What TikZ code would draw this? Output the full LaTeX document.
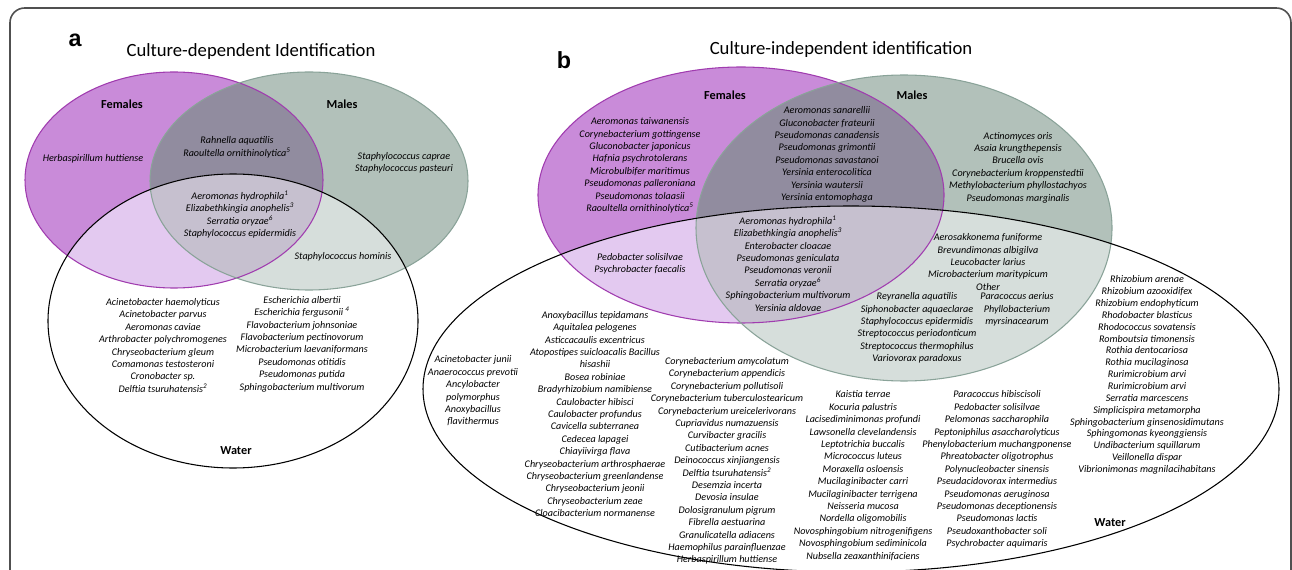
\documentclass[tikz,border=0pt]{standalone}
\usepackage{fontspec}
\setmainfont{Carlito}
\newfontfamily\panelfont{Liberation Sans}
\definecolor{fem}{RGB}{201,139,217}
\definecolor{mal}{RGB}{178,193,186}
\definecolor{fm}{RGB}{145,140,159}
\definecolor{fw}{RGB}{227,201,240}
\definecolor{mw}{RGB}{214,222,219}
\definecolor{fmw}{RGB}{198,192,207}
\definecolor{femedge}{RGB}{160,60,175}
\definecolor{maledge}{RGB}{138,163,153}
\definecolor{frame}{RGB}{80,80,80}
\begin{document}
\begin{tikzpicture}[x=0.75pt,y=-0.75pt,
  sp/.style={font=\fontsize{7.6}{9.3}\selectfont\itshape, align=center, inner sep=0pt},
  lab/.style={font=\fontsize{9.2}{11}\selectfont\bfseries, inner sep=0pt},
  ttl/.style={font=\fontsize{14}{16}\selectfont, inner sep=0pt},
  pan/.style={font=\panelfont\fontsize{17.5}{20}\selectfont\bfseries, inner sep=0pt},
  fedge/.style={draw=femedge, line width=0.8pt},
  medge/.style={draw=maledge, line width=0.8pt},
  wedge/.style={draw=black, line width=0.8pt}]
\useasboundingbox (0,0) rectangle (1292,570);
% frame
\draw[frame, line width=1.2pt, rounded corners=11] (10,580) -- (10,8) -- (1291,8) -- (1291,580);

% ---------- panel a geometry ----------
\def\FA{(174,180) ellipse [x radius=149, y radius=108]}
\def\MA{(309,181) ellipse [x radius=159, y radius=109]}
\def\WA{(233,321) ellipse [x radius=185, y radius=147]}
\fill[fem] \FA;
\fill[mal] \MA;
\begin{scope}\clip \FA; \fill[fm] \MA; \end{scope}
\fill[white] \WA;
\begin{scope}\clip \WA; \fill[fw] \FA; \end{scope}
\begin{scope}\clip \WA; \fill[mw] \MA; \end{scope}
\begin{scope}\clip \WA; \clip \FA; \fill[fmw] \MA; \end{scope}
\draw[fedge] \FA;
\draw[medge] \MA;
\draw[wedge] \WA;

% ---------- panel b geometry ----------
\def\FB{(741,195) ellipse [x radius=203, y radius=128]}
\def\MB{(904,228) ellipse [x radius=208, y radius=153]}
\def\WB{(851,389) ellipse [x radius=428, y radius=183]}
\fill[fem] \FB;
\fill[mal] \MB;
\begin{scope}\clip \FB; \fill[fm] \MB; \end{scope}
\fill[white] \WB;
\begin{scope}\clip \WB; \fill[fw] \FB; \end{scope}
\begin{scope}\clip \WB; \fill[mw] \MB; \end{scope}
\begin{scope}\clip \WB; \clip \FB; \fill[fmw] \MB; \end{scope}
\draw[fedge] \FB;
\draw[medge] \MB;
\draw[wedge] \WB;

% ---------- panel a text ----------
\node[pan] (pa) at (75,40) {a};
\node[ttl] (ta) at (251,52) {Culture-dependent Identification};
\node[lab] (fa) at (122,104) {Females};
\node[lab] (ma) at (342,104) {Males};
\node[lab] (wa) at (236,451) {Water};
\node[sp] (a1) at (93,159) {Herbaspirillum huttiense};
\node[sp] (a2) at (237,147.5) {Rahnella aquatilis\\Raoultella ornithinolytica\textsuperscript{5}};
\node[sp] (a3) at (404,163) {Staphylococcus caprae\\Staphylococcus pasteuri};
\node[sp] (a4) at (240,214.6) {Aeromonas hydrophila\textsuperscript{1}\\Elizabethkingia anophelis\textsuperscript{3}\\Serratia oryzae\textsuperscript{6}\\Staphylococcus epidermidis};
\node[sp] (a5) at (343,257) {Staphylococcus hominis};
\node[sp] (a6) at (163,345.5) {Acinetobacter haemolyticus\\Acinetobacter parvus\\Aeromonas caviae\\Arthrobacter polychromogenes\\Chryseobacterium gleum\\Comamonas testosteroni\\Cronobacter sp.\\Delftia tsuruhatensis\textsuperscript{2}};
\node[sp] (a7) at (302,344) {Escherichia albertii\\Escherichia fergusonii \textsuperscript{4}\\Flavobacterium johnsoniae\\Flavobacterium pectinovorum\\Microbacterium laevaniformans\\Pseudomonas otitidis\\Pseudomonas putida\\Sphingobacterium multivorum};

% ---------- panel b text ----------
\node[pan] (pb) at (564,60) {b};
\node[ttl] (tb) at (841,50) {Culture-independent identification};
\node[lab] (fb) at (725,95) {Females};
\node[lab] (mb) at (912,95) {Males};
\node[lab] (wb) at (1110,523) {Water};
\node[sp] (b1) at (640,165.5) {Aeromonas taiwanensis\\Corynebacterium gottingense\\Gluconobacter japonicus\\Hafnia psychrotolerans\\Microbulbifer maritimus\\Pseudomonas palleroniana\\Pseudomonas tolaasii\\Raoultella ornithinolytica\textsuperscript{5}};
\node[sp] (b2) at (827,154.5) {Aeromonas sanarellii\\Gluconobacter frateurii\\Pseudomonas canadensis\\Pseudomonas grimontii\\Pseudomonas savastanoi\\Yersinia enterocolitica\\Yersinia wautersii\\Yersinia entomophaga};
\node[sp] (b3) at (788,263.5) {Aeromonas hydrophila\textsuperscript{1}\\Elizabethkingia anophelis\textsuperscript{3}\\Enterobacter cloacae\\Pseudomonas geniculata\\Pseudomonas veronii\\Serratia oryzae\textsuperscript{6}\\Sphingobacterium multivorum\\Yersinia aldovae};
\node[sp] (b4) at (640,263.5) {Pedobacter solisilvae\\Psychrobacter faecalis};
\node[sp] (b5) at (1018,167.5) {Actinomyces oris\\Asaia krungthepensis\\Brucella ovis\\Corynebacterium kroppenstedtii\\Methylobacterium phyllostachyos\\Pseudomonas marginalis};
\node[sp] (b6) at (988,262) {Aerosakkonema funiforme\\Brevundimonas albigilva\\Leucobacter larius\\Microbacterium maritypicum\\Other};
\node[sp] (b7) at (917,328) {Reyranella aquatilis\\Siphonobacter aquaeclarae\\Staphylococcus epidermidis\\Streptococcus periodonticum\\Streptococcus thermophilus\\Variovorax paradoxus};
\node[sp] (b8) at (1017,309.5) {Paracoccus aerius\\Phyllobacterium\\myrsinacearum};
\node[sp] (w1) at (473,391) {Acinetobacter junii\\Anaerococcus prevotii\\Ancylobacter\\polymorphus\\Anoxybacillus\\flavithermus};
\node[sp] (w2) at (595,414) {Anoxybacillus tepidamans\\Aquitalea pelogenes\\Asticcacaulis excentricus\\Atopostipes suicloacalis Bacillus\\hisashii\\Bosea robiniae\\Bradyrhizobium namibiense\\Caulobacter hibisci\\Caulobacter profundus\\Cavicella subterranea\\Cedecea lapagei\\Chiayiivirga flava\\Chryseobacterium arthrosphaerae\\Chryseobacterium greenlandense\\Chryseobacterium jeonii\\Chryseobacterium zeae\\Cloacibacterium normanense};
\node[sp] (w3) at (727,461) {Corynebacterium amycolatum\\Corynebacterium appendicis\\Corynebacterium pollutisoli\\Corynebacterium tuberculostearicum\\Corynebacterium ureicelerivorans\\Cupriavidus numazuensis\\Curvibacter gracilis\\Cutibacterium acnes\\Deinococcus xinjiangensis\\Delftia tsuruhatensis\textsuperscript{2}\\Desemzia incerta\\Devosia insulae\\Dolosigranulum pigrum\\Fibrella aestuarina\\Granulicatella adiacens\\Haemophilus parainfluenzae\\Herbaspirillum huttiense};
\node[sp] (w4) at (863,475.5) {Kaistia terrae\\Kocuria palustris\\Lacisediminimonas profundi\\Lawsonella clevelandensis\\Leptotrichia buccalis\\Micrococcus luteus\\Moraxella osloensis\\Mucilaginibacter carri\\Mucilaginibacter terrigena\\Neisseria mucosa\\Nordella oligomobilis\\Novosphingobium nitrogenifigens\\Novosphingobium sediminicola\\Nubsella zeaxanthinifaciens};
\node[sp] (w5) at (997,469.5) {Paracoccus hibiscisoli\\Pedobacter solisilvae\\Pelomonas saccharophila\\Peptoniphilus asaccharolyticus\\Phenylobacterium muchangponense\\Phreatobacter oligotrophus\\Polynucleobacter sinensis\\Pseudacidovorax intermedius\\Pseudomonas aeruginosa\\Pseudomonas deceptionensis\\Pseudomonas lactis\\Pseudoxanthobacter soli\\Psychrobacter aquimaris};
\node[sp, font=\fontsize{7.6}{8.9}\selectfont\itshape] (w6) at (1147,375) {Rhizobium arenae\\Rhizobium azooxidifex\\Rhizobium endophyticum\\Rhodobacter blasticus\\Rhodococcus sovatensis\\Romboutsia timonensis\\Rothia dentocariosa\\Rothia mucilaginosa\\Rurimicrobium arvi\\Rurimicrobium arvi\\Serratia marcescens\\Simplicispira metamorpha\\Sphingobacterium ginsenosidimutans\\Sphingomonas kyeonggiensis\\Undibacterium squillarum\\Veillonella dispar\\Vibrionimonas magnilacihabitans};
\end{tikzpicture}
\end{document}
